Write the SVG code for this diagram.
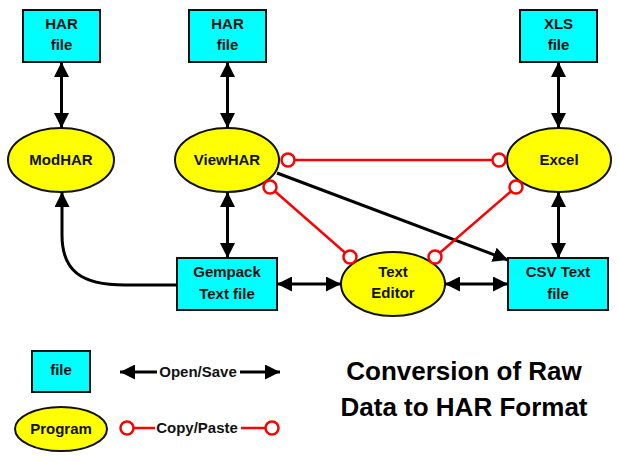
<svg xmlns="http://www.w3.org/2000/svg" width="618" height="462" viewBox="0 0 618 462">
<defs>
<marker id="ah" markerUnits="userSpaceOnUse" markerWidth="15" markerHeight="15" refX="15" refY="7.5" orient="auto-start-reverse" viewBox="0 0 15 15">
<path d="M0,0 L15,7.5 L0,15 z" fill="#000"/>
</marker>
<style>
.box{fill:#00FFFF;stroke:#111;stroke-width:2}
.prog{fill:#FFFF00;stroke:#111;stroke-width:2}
.t{font-family:"Liberation Sans",Arial,sans-serif;font-weight:bold;font-size:15px;text-anchor:middle;fill:#111}
.title{font-family:"Liberation Sans",Arial,sans-serif;font-weight:bold;font-size:26px;text-anchor:middle;fill:#000}
.os{fill:none;stroke:#000;stroke-width:3}
.cp{fill:none;stroke:#FF0000;stroke-width:2.5}
.cpc{fill:#fff;stroke:#FF0000;stroke-width:2.5}
</style>
</defs>
<rect width="618" height="462" fill="#fff"/>

<g id="har1"><rect class="box" x="23" y="10" width="77" height="52"/><text class="t" x="61.5" y="29">HAR</text><text class="t" x="61.5" y="50">file</text></g>
<g id="har2"><rect class="box" x="189" y="10" width="77" height="52"/><text class="t" x="227.5" y="29">HAR</text><text class="t" x="227.5" y="50">file</text></g>
<g id="xls"><rect class="box" x="520" y="10" width="77" height="52"/><text class="t" x="558.5" y="29">XLS</text><text class="t" x="558.5" y="50">file</text></g>
<g id="modhar"><ellipse class="prog" cx="61" cy="160" rx="53" ry="32"/><text class="t" x="61" y="165">ModHAR</text></g>
<g id="viewhar"><ellipse class="prog" cx="227" cy="160" rx="52" ry="32"/><text class="t" x="227" y="165">ViewHAR</text></g>
<g id="excel"><ellipse class="prog" cx="559" cy="160" rx="52" ry="32"/><text class="t" x="559" y="165">Excel</text></g>
<g id="gempack"><rect class="box" x="177" y="258" width="100" height="52"/><text class="t" x="227" y="277">Gempack</text><text class="t" x="227" y="299">Text file</text></g>
<g id="texteditor"><ellipse class="prog" cx="393" cy="284" rx="52" ry="32"/><text class="t" x="393" y="277">Text</text><text class="t" x="393" y="298">Editor</text></g>
<g id="csv"><rect class="box" x="508" y="258" width="100" height="52"/><text class="t" x="558" y="277">CSV Text</text><text class="t" x="558" y="299">file</text></g>

<g id="connectors">
<line class="os" x1="61.5" y1="62" x2="61.5" y2="128" marker-start="url(#ah)" marker-end="url(#ah)"/>
<line class="os" x1="227.5" y1="62" x2="227.5" y2="128" marker-start="url(#ah)" marker-end="url(#ah)"/>
<line class="os" x1="558.5" y1="62" x2="558.5" y2="128" marker-start="url(#ah)" marker-end="url(#ah)"/>
<line class="os" x1="227.5" y1="192" x2="227.5" y2="258" marker-start="url(#ah)" marker-end="url(#ah)"/>
<line class="os" x1="558.5" y1="192" x2="558.5" y2="258" marker-start="url(#ah)" marker-end="url(#ah)"/>
<line class="os" x1="277" y1="284" x2="341" y2="284" marker-start="url(#ah)" marker-end="url(#ah)"/>
<line class="os" x1="445" y1="284" x2="508" y2="284" marker-start="url(#ah)" marker-end="url(#ah)"/>
<path class="os" d="M177,285 L125,285 C80,285 62,270 62,235 L62,192" marker-end="url(#ah)"/>
<line class="os" x1="277" y1="173" x2="508" y2="260" marker-end="url(#ah)"/>
<line class="cp" x1="288" y1="160" x2="499" y2="160"/>
<line class="cp" x1="270" y1="187" x2="350" y2="257"/>
<line class="cp" x1="516" y1="187" x2="435" y2="257"/>
<circle class="cpc" cx="288" cy="160" r="6.5"/>
<circle class="cpc" cx="499" cy="160" r="6.5"/>
<circle class="cpc" cx="270" cy="187" r="6.5"/>
<circle class="cpc" cx="350" cy="257" r="6.5"/>
<circle class="cpc" cx="516" cy="187" r="6.5"/>
<circle class="cpc" cx="435" cy="257" r="6.5"/>
</g>

<g id="legend">
<rect class="box" x="32" y="351" width="58" height="41"/>
<text class="t" x="61" y="375">file</text>
<ellipse class="prog" cx="61" cy="429" rx="46" ry="22"/>
<text class="t" x="61" y="434">Program</text>
<line class="os" x1="120" y1="372" x2="157" y2="372" marker-start="url(#ah)"/>
<line class="os" x1="240" y1="372" x2="280" y2="372" marker-end="url(#ah)"/>
<text class="t" x="198" y="377">Open/Save</text>
<line class="cp" x1="127" y1="428" x2="155" y2="428"/>
<line class="cp" x1="241" y1="428" x2="272" y2="428"/>
<circle class="cpc" cx="127" cy="428" r="6.5"/>
<circle class="cpc" cx="272" cy="428" r="6.5"/>
<text class="t" x="197" y="433">Copy/Paste</text>
</g>

<g id="title">
<text class="title" x="464" y="380">Conversion of Raw</text>
<text class="title" x="464" y="416">Data to HAR Format</text>
</g>
</svg>
